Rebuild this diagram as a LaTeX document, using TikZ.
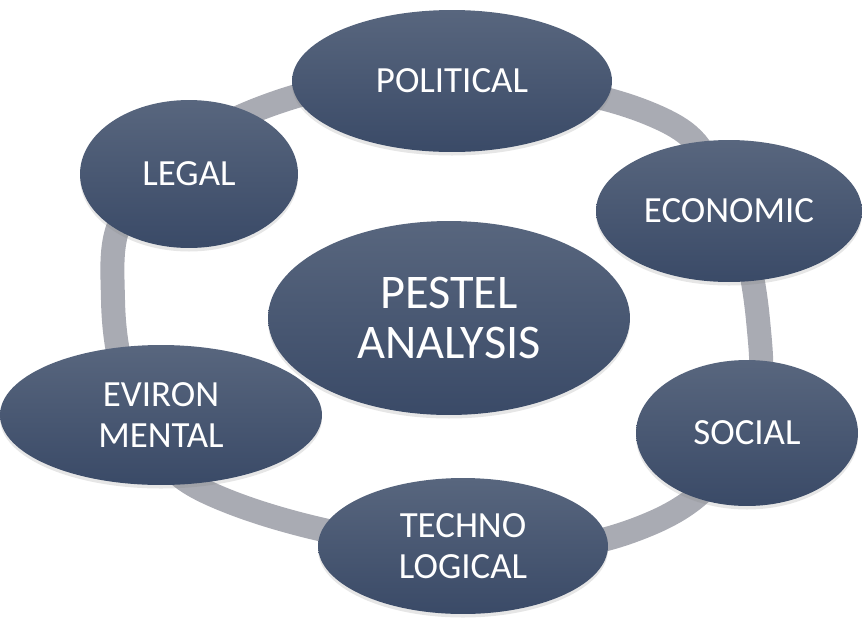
\documentclass[tikz,border=0pt]{standalone}
\usepackage{fontspec}
\setmainfont{Carlito}
\usetikzlibrary{shapes.geometric,shadows}
\definecolor{slatetop}{HTML}{58667E}
\definecolor{slatebot}{HTML}{3A4A67}
\definecolor{ringgray}{HTML}{A9ABB3}

\begin{document}
\begin{tikzpicture}[x=0.02cm,y=-0.02cm,
	factor/.style={ellipse, inner sep=0pt, top color=slatetop, bottom color=slatebot, text=white, align=center, font=\fontsize{21}{23}\selectfont, drop shadow={shadow xshift=0pt, shadow yshift=-2pt, opacity=0.2}},
	ring/.style={draw=ringgray, line width=0.48cm}]
	\useasboundingbox (0,0) rectangle (862,626);
	
	% gray ring behind the factors
	\draw[ring] plot[smooth cycle, tension=0.7] coordinates {(113,300) (145,425) (230,502) (465,550) (652,523) (745,430) (758,320) (722,188) (648,113) (456,80) (275,103) (140,190)};
	
	\node[factor, minimum width=6.4cm, minimum height=2.84cm] (political) at (452,81) {POLITICAL};
	\node[factor, minimum width=4.36cm, minimum height=2.96cm] (legal) at (189,174) {LEGAL};
	\node[factor, minimum width=5.32cm, minimum height=2.84cm] (economic) at (729,211) {ECONOMIC};
	\node[factor, minimum width=7.24cm, minimum height=3.88cm, font=\fontsize{27.5}{28}\selectfont] (pestel) at (449,318) {PESTEL\\ANALYSIS};
	\node[factor, minimum width=6.44cm, minimum height=2.8cm] (environ) at (161,415) {EVIRON\\MENTAL};
	\node[factor, minimum width=4.44cm, minimum height=2.92cm] (social) at (747,433) {SOCIAL};
	\node[factor, minimum width=5.8cm, minimum height=2.72cm] (techno) at (463,546) {TECHNO\\LOGICAL};
\end{tikzpicture}
\end{document}
